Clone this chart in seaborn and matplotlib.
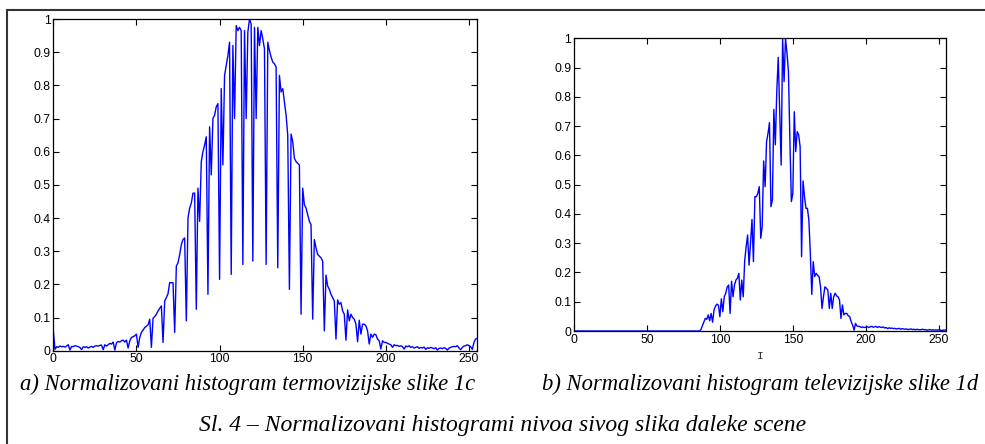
import numpy as np
import pandas as pd
import matplotlib
matplotlib.use("Agg")
import matplotlib.pyplot as plt
from matplotlib.patches import Rectangle
import seaborn as sns

# ---- data (normalized histograms, gray levels 0..255) ----
gray_levels = list(range(256))

hist_thermal = [
    0.062, 0.004, 0.012, 0.010, 0.014, 0.012, 0.013, 0.011, 0.014, 0.018, 0.002, 0.013, 0.012, 0.015, 0.014, 0.012,
    0.010, 0.003, 0.012, 0.010, 0.012, 0.008, 0.011, 0.013, 0.010, 0.014, 0.015, 0.014, 0.016, 0.017, 0.003, 0.018,
    0.014, 0.018, 0.022, 0.020, 0.026, 0.002, 0.024, 0.028, 0.026, 0.030, 0.032, 0.026, 0.032, 0.008, 0.030, 0.040,
    0.042, 0.045, 0.050, 0.010, 0.040, 0.055, 0.062, 0.070, 0.074, 0.078, 0.095, 0.010, 0.098, 0.103, 0.110, 0.120,
    0.128, 0.135, 0.025, 0.150, 0.160, 0.172, 0.205, 0.205, 0.205, 0.055, 0.255, 0.265, 0.290, 0.320, 0.335, 0.340,
    0.090, 0.400, 0.430, 0.445, 0.475, 0.475, 0.125, 0.490, 0.390, 0.570, 0.600, 0.620, 0.645, 0.170, 0.675, 0.530,
    0.700, 0.710, 0.735, 0.745, 0.215, 0.790, 0.560, 0.830, 0.860, 0.890, 0.930, 0.230, 0.920, 0.700, 0.980, 0.965,
    0.975, 0.965, 0.260, 0.965, 0.700, 0.960, 1.000, 0.985, 0.270, 0.975, 0.700, 0.975, 0.920, 0.965, 0.940, 0.910,
    0.260, 0.930, 0.905, 0.885, 0.870, 0.865, 0.855, 0.250, 0.830, 0.780, 0.790, 0.750, 0.710, 0.650, 0.185, 0.653,
    0.630, 0.580, 0.570, 0.565, 0.560, 0.110, 0.490, 0.440, 0.430, 0.410, 0.390, 0.380, 0.095, 0.335, 0.310, 0.290,
    0.285, 0.280, 0.270, 0.060, 0.228, 0.195, 0.185, 0.170, 0.160, 0.150, 0.035, 0.153, 0.140, 0.145, 0.120, 0.110,
    0.032, 0.123, 0.090, 0.110, 0.100, 0.095, 0.080, 0.027, 0.092, 0.050, 0.080, 0.080, 0.075, 0.060, 0.020, 0.050,
    0.040, 0.050, 0.048, 0.035, 0.030, 0.005, 0.030, 0.025, 0.025, 0.022, 0.020, 0.018, 0.010, 0.018, 0.015, 0.016,
    0.013, 0.015, 0.012, 0.005, 0.014, 0.012, 0.015, 0.010, 0.012, 0.008, 0.010, 0.012, 0.007, 0.010, 0.008, 0.011,
    0.004, 0.009, 0.007, 0.010, 0.008, 0.006, 0.009, 0.002, 0.007, 0.008, 0.006, 0.009, 0.007, 0.002, 0.008, 0.010,
    0.012, 0.013, 0.012, 0.015, 0.008, 0.003, 0.010, 0.014, 0.015, 0.018, 0.015, 0.012, 0.004, 0.025, 0.035, 0.038,
]

hist_tv = [
    0.0, 0.0, 0.0, 0.0, 0.0, 0.0, 0.0, 0.0, 0.0, 0.0, 0.0, 0.0, 0.0, 0.0, 0.0, 0.0,
    0.0, 0.0, 0.0, 0.0, 0.0, 0.0, 0.0, 0.0, 0.0, 0.0, 0.0, 0.0, 0.0, 0.0, 0.0, 0.0,
    0.0, 0.0, 0.0, 0.0, 0.0, 0.0, 0.0, 0.0, 0.0, 0.0, 0.0, 0.0, 0.0, 0.0, 0.0, 0.0,
    0.0, 0.0, 0.0, 0.0, 0.0, 0.0, 0.0, 0.0, 0.0, 0.0, 0.0, 0.0, 0.0, 0.0, 0.0, 0.0,
    0.0, 0.0, 0.0, 0.0, 0.0, 0.0, 0.0, 0.0, 0.0, 0.0, 0.0, 0.0, 0.0, 0.0, 0.0, 0.0,
    0.0, 0.0, 0.0, 0.0, 0.0, 0.0, 0.0, 0.005, 0.018, 0.030, 0.043, 0.040, 0.055, 0.035, 0.060, 0.030,
    0.072, 0.085, 0.092, 0.088, 0.049, 0.110, 0.066, 0.117, 0.129, 0.150, 0.157, 0.060, 0.170, 0.117, 0.157, 0.174,
    0.180, 0.197, 0.106, 0.174, 0.117, 0.240, 0.288, 0.328, 0.225, 0.300, 0.381, 0.237, 0.459, 0.459, 0.470, 0.493,
    0.317, 0.356, 0.581, 0.493, 0.647, 0.675, 0.712, 0.425, 0.448, 0.757, 0.636, 0.818, 0.935, 0.750, 0.567, 1.000,
    0.852, 1.000, 0.949, 0.886, 0.650, 0.442, 0.470, 0.749, 0.613, 0.681, 0.670, 0.630, 0.254, 0.513, 0.460, 0.419,
    0.419, 0.379, 0.265, 0.125, 0.237, 0.186, 0.197, 0.190, 0.186, 0.151, 0.077, 0.117, 0.151, 0.146, 0.140, 0.077,
    0.129, 0.077, 0.117, 0.129, 0.120, 0.117, 0.106, 0.043, 0.089, 0.055, 0.060, 0.060, 0.052, 0.049, 0.032, 0.020,
    0.003, 0.026, 0.017, 0.016, 0.015, 0.012, 0.014, 0.012, 0.013, 0.015, 0.012, 0.014, 0.016, 0.013, 0.014, 0.016,
    0.012, 0.015, 0.013, 0.012, 0.014, 0.010, 0.012, 0.008, 0.011, 0.009, 0.010, 0.008, 0.009, 0.007, 0.008, 0.009,
    0.006, 0.008, 0.007, 0.006, 0.007, 0.005, 0.006, 0.007, 0.005, 0.006, 0.004, 0.006, 0.005, 0.004, 0.005, 0.006,
    0.004, 0.005, 0.003, 0.004, 0.005, 0.003, 0.004, 0.003, 0.004, 0.003, 0.004, 0.003, 0.002, 0.003, 0.003, 0.004,
]

x_ticks = [0, 50, 100, 150, 200, 250]
y_ticks = [0, 0.1, 0.2, 0.3, 0.4, 0.5, 0.6, 0.7, 0.8, 0.9, 1.0]
y_tick_labels = ["0", "0.1", "0.2", "0.3", "0.4", "0.5", "0.6", "0.7", "0.8", "0.9", "1"]

caption_a = "a) Normalizovani histogram termovizijske slike 1c"
caption_b = "b) Normalizovani histogram televizijske slike 1d"
caption_main = "Sl. 4 – Normalizovani histogrami nivoa sivog slika daleke scene"
xlabel_b = "I"

# ---- styling ----
sns.set_style("white")
plt.rcParams["font.family"] = ["Liberation Sans", "DejaVu Sans"]

W, H = 985, 444
fig = plt.figure(figsize=(W / 100, H / 100), dpi=100)
fig.patch.set_facecolor("white")

def px_axes(left, top, right, bottom):
    return fig.add_axes([left / W, 1 - bottom / H, (right - left) / W, (bottom - top) / H])

ax_a = px_axes(53.3, 19.0, 477.3, 350.7)
ax_b = px_axes(574.0, 38.3, 946.0, 331.0)

df_a = pd.DataFrame({"I": gray_levels, "h": hist_thermal})
df_b = pd.DataFrame({"I": gray_levels, "h": hist_tv})

for ax, df in ((ax_a, df_a), (ax_b, df_b)):
    sns.lineplot(data=df, x="I", y="h", ax=ax, color="#0000ff", linewidth=1.0)
    ax.set_xlim(0, 255)
    ax.set_ylim(0, 1)
    ax.set_xticks(x_ticks)
    ax.set_xticklabels([str(t) for t in x_ticks])
    ax.set_yticks(y_ticks)
    ax.set_yticklabels(y_tick_labels)
    ax.tick_params(direction="in", length=4, width=0.8, labelsize=8.7,
                   top=True, right=True, bottom=True, left=True, pad=2, colors="black")
    for s in ax.spines.values():
        s.set_visible(True)
        s.set_color("black")
        s.set_linewidth(0.9)
    ax.set_ylabel("")
    ax.set_xlabel("")

ax_b.set_xlabel(xlabel_b, fontsize=8, family=["Liberation Mono", "DejaVu Sans Mono"], labelpad=4)

# outer frame around the figure panel
frame = Rectangle((7 / W, -0.2), 1.2, (H - 10) / H + 0.2, transform=fig.transFigure,
                  fill=False, edgecolor="#333333", linewidth=1.5, clip_on=False)
fig.add_artist(frame)

serif = ["Liberation Serif", "DejaVu Serif"]
fig.text(20 / W, 1 - 384 / H, caption_a, fontsize=16.3, style="italic", family=serif,
         ha="left", va="center", color="black")
fig.text(978 / W, 1 - 384 / H, caption_b, fontsize=16.3, style="italic", family=serif,
         ha="right", va="center", color="black")
fig.text(503 / W, 1 - 425 / H, caption_main, fontsize=17, style="italic", family=serif,
         ha="center", va="center", color="black")

fig.savefig("out.png", dpi=100, facecolor="white")
